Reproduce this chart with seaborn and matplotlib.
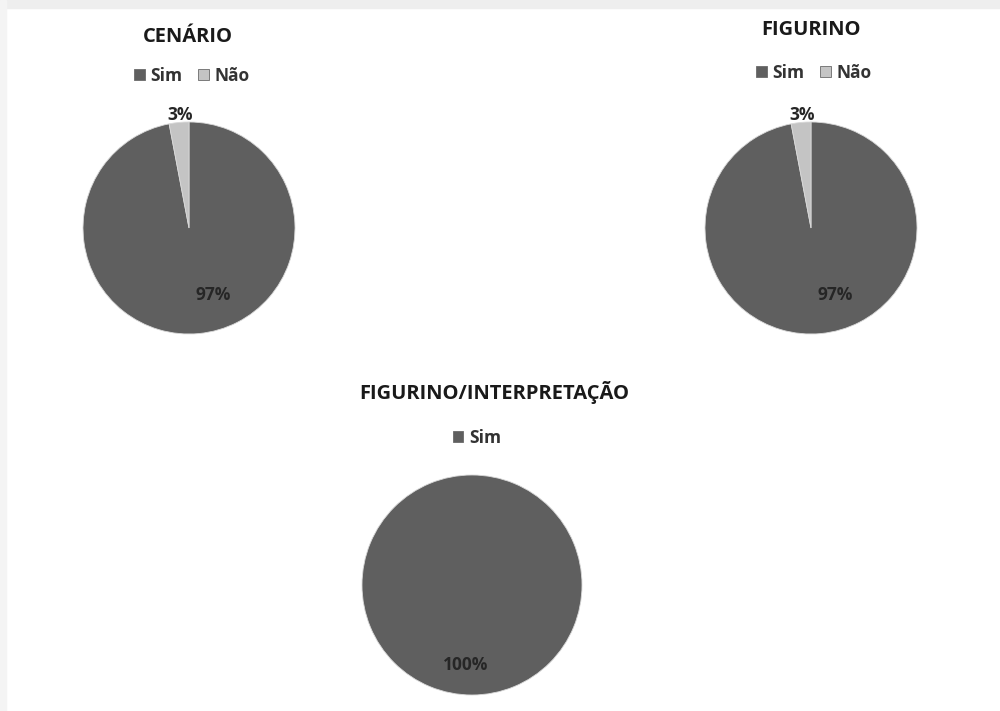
import matplotlib
matplotlib.use("Agg")
import matplotlib.pyplot as plt
import seaborn as sns
from matplotlib.patches import Rectangle

sns.set_theme(style="white")
plt.rcParams['font.family'] = ['Open Sans', 'DejaVu Sans']

titles = ["CENÁRIO", "FIGURINO", "FIGURINO/INTERPRETAÇÃO"]
categories = ["Sim", "Não"]
sim_values = [97, 97, 100]
nao_values = [3, 3, 0]
colors = ["#5f5f5f", "#c4c4c4"]

W, H = 1000, 711
fig = plt.figure(figsize=(W / 100, H / 100), dpi=100)
fig.patch.set_facecolor("white")
# light gray frame strips (screenshot border)
fig.patches.append(Rectangle((0, 1 - 8 / H), 1, 8 / H, transform=fig.transFigure,
                             color="#eeeeee", zorder=0))
fig.patches.append(Rectangle((0, 0), 6 / W, 1, transform=fig.transFigure,
                             color="#f4f4f4", zorder=0))

# layout (pixel units): centre x, centre y, radius, title pos, legend pos
layout = [
    dict(cx=189, cy=228, r=106, tx=188, ty=37, lx=192, ly=76),
    dict(cx=811, cy=228, r=106, tx=811, ty=30, lx=814, ly=73),
    dict(cx=472, cy=585, r=110, tx=494, ty=392, lx=477, ly=438),
]
# label offsets in radius units (x, y) for Sim and Não
label_pos = [
    [(0.23, -0.63), (-0.08, 1.07)],
    [(0.23, -0.63), (-0.08, 1.07)],
    [(-0.06, -0.73), None],
]

for i, (title, s, n, L) in enumerate(zip(titles, sim_values, nao_values, layout)):
    r = L["r"]
    ax = fig.add_axes([(L["cx"] - r) / W, (H - L["cy"] - r) / H, 2 * r / W, 2 * r / H])
    vals = [s, n] if n > 0 else [s]
    cats = categories[:len(vals)]
    wedges, _ = ax.pie(vals, colors=colors[:len(vals)], startangle=90, counterclock=False,
                       radius=1, wedgeprops=dict(linewidth=0.6, edgecolor="#d8d8d8"))
    ax.set_xlim(-1, 1)
    ax.set_ylim(-1, 1)
    ax.set_aspect("auto")
    ax.axis("off")
    for j, v in enumerate(vals):
        pos = label_pos[i][j]
        ax.text(pos[0], pos[1], f"{v}%", ha="center", va="center", fontsize=12.5,
                fontweight="bold", color="#262626")
    fig.text(L["tx"] / W, 1 - L["ty"] / H, title, ha="center", va="center",
             fontsize=14.5, fontweight="bold", color="#1a1a1a")
    handles = []
    for j, c in enumerate(cats):
        handles.append(Rectangle((0, 0), 1, 1, facecolor=colors[j], edgecolor="#6a6a6a",
                                 linewidth=0.6))
    leg = fig.legend(handles, cats, loc="center", bbox_to_anchor=(L["lx"] / W, 1 - L["ly"] / H),
                     ncol=len(cats), frameon=False, handlelength=0.6, handleheight=0.6,
                     handletextpad=0.35, columnspacing=0.9, borderpad=0,
                     prop=dict(size=12.5, weight="bold"))
    for t in leg.get_texts():
        t.set_color("#333333")

fig.savefig("out.png", dpi=100)
